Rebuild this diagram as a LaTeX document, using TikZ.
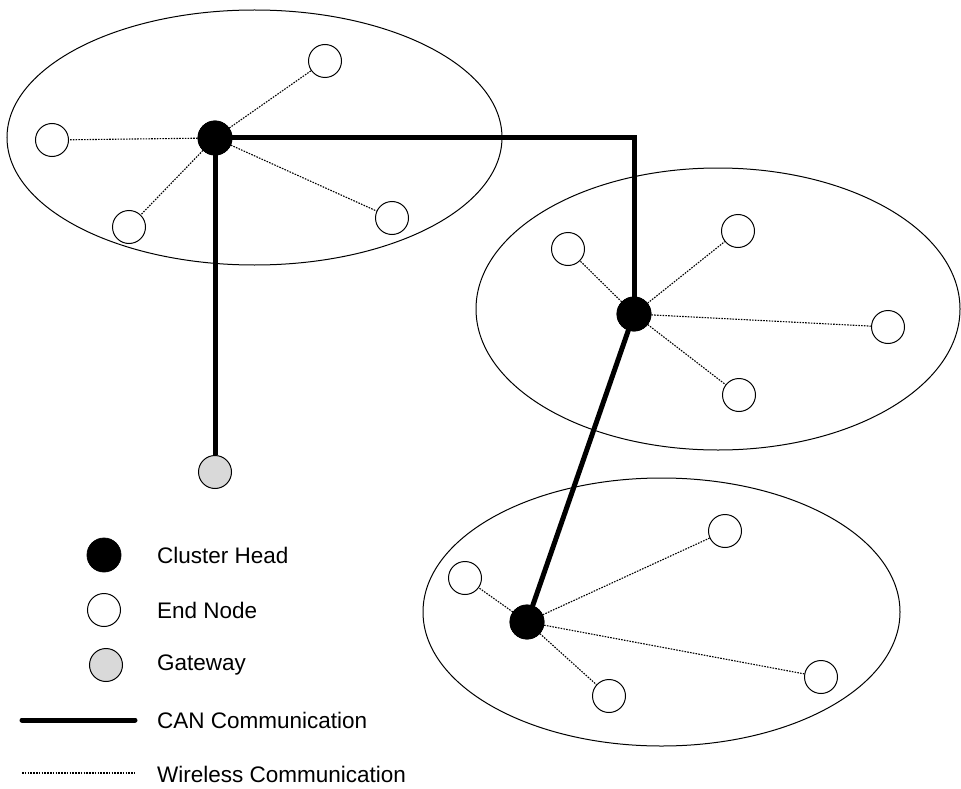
\documentclass[tikz,border=0pt]{standalone}
\usepackage{fontspec}
\setmainfont{Liberation Sans}
\begin{document}
\begin{tikzpicture}[x=1pt,y=-1pt,
  head/.style={circle,fill=black,draw=black,line width=0.8pt,minimum size=34pt,inner sep=0pt},
  endnode/.style={circle,fill=white,draw=black,line width=1pt,minimum size=33pt,inner sep=0pt},
  gateway/.style={circle,fill=gray!30,draw=black,line width=1pt,minimum size=33pt,inner sep=0pt},
  can/.style={line width=5pt},
  wireless/.style={line width=1.1pt,dash pattern=on 1.6pt off 1.2pt},
  legendtext/.style={anchor=west,font=\fontsize{22.5}{26}\selectfont,inner sep=0pt}
]
\useasboundingbox (0,0) rectangle (961,789);
% clusters
\draw[line width=1pt] (254.5,137.5) ellipse [x radius=247.5, y radius=127.5];
\draw[line width=1pt] (718,309) ellipse [x radius=242, y radius=141];
\draw[line width=1pt] (661.5,612) ellipse [x radius=238.5, y radius=134];

% node positions
\coordinate (ch1p) at (215,138);
\coordinate (ch2p) at (634,314);
\coordinate (ch3p) at (527,622);

% cluster 1
\node[endnode] (a1) at (325,61) {};
\node[endnode] (a2) at (52,140) {};
\node[endnode] (a3) at (129,227) {};
\node[endnode] (a4) at (392,218) {};
% cluster 2
\node[endnode] (b1) at (568,249) {};
\node[endnode] (b2) at (738,231) {};
\node[endnode] (b3) at (888,327) {};
\node[endnode] (b4) at (739,395) {};
% cluster 3
\node[endnode] (c1) at (465,578) {};
\node[endnode] (c2) at (725,531) {};
\node[endnode] (c3) at (821,677) {};
\node[endnode] (c4) at (609,696) {};

\node[gateway] (gw) at (215,472) {};

\node[head] (ch1) at (ch1p) {};
\node[head] (ch2) at (ch2p) {};
\node[head] (ch3) at (ch3p) {};

% wireless links
\foreach \n in {a1,a2,a3,a4} \draw[wireless] (ch1) -- (\n);
\foreach \n in {b1,b2,b3,b4} \draw[wireless] (ch2) -- (\n);
\foreach \n in {c1,c2,c3,c4} \draw[wireless] (ch3) -- (\n);

% CAN links
\draw[can] (ch1.center) -| (ch2.center);
\draw[can] (ch1.center) -- (gw.north);
\draw[can] (ch2.center) -- (ch3.center);

% redraw heads on top
\node[head] at (ch1p) {};
\node[head] at (ch2p) {};
\node[head] at (ch3p) {};

% legend
\node[head] (lh) at (104,555) {};
\node[endnode] (le) at (104,610) {};
\node[gateway] (lg) at (106,665) {};
\coordinate (lc1) at (22,720);
\coordinate (lc2) at (135,720);
\coordinate (lw1) at (22,773);
\coordinate (lw2) at (135,773);
\draw[can,line cap=round] (lc1) -- (lc2);
\draw[wireless] (lw1) -- (lw2);
\node[legendtext] (t1) at (157,555) {Cluster Head};
\node[legendtext] (t2) at (157,610) {End Node};
\node[legendtext] (t3) at (157,665) {Gateway};
\node[legendtext] (t4) at (157,720) {CAN Communication};
\node[legendtext] (t5) at (157,774) {Wireless Communication};
\end{tikzpicture}
\end{document}
